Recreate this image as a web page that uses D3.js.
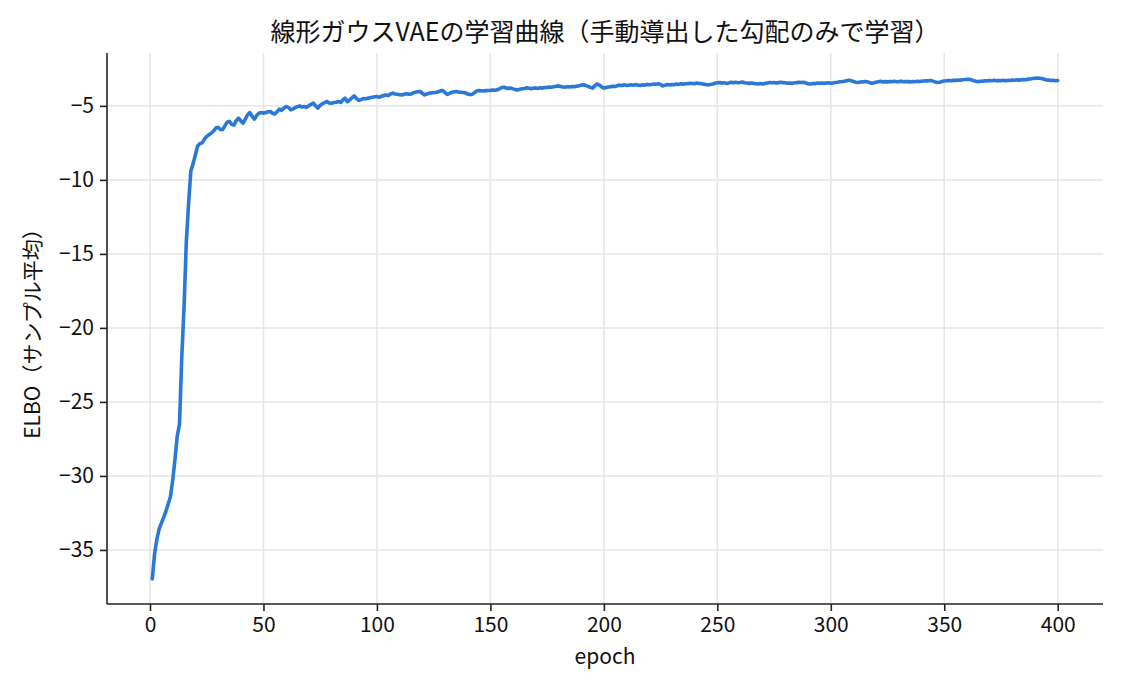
<!DOCTYPE html>
<html>
<head>
<meta charset="utf-8">
<script src="https://cdn.jsdelivr.net/npm/d3@7"></script>
<style>
  body { margin: 0; background: #fff; }
  svg { font-family: "Noto Sans CJK JP", "Noto Sans", sans-serif; }
</style>
</head>
<body>
<svg width="1125" height="690"></svg>
<script>
// chart texts
var titleText = "線形ガウスVAEの学習曲線（手動導出した勾配のみで学習）";
var xLabel = "epoch";
var yLabel = "ELBO（サンプル平均）";

// tick values
var xTicks = [0, 50, 100, 150, 200, 250, 300, 350, 400];
var yTicks = [-35, -30, -25, -20, -15, -10, -5];

// ELBO per epoch (epoch 1..400)
var elbo = [
  -36.96, -35.3, -34.3, -33.6, -33.2, -32.8, -32.4, -31.9, -31.4, -30.3,
  -28.9, -27.3, -26.5, -22.0, -18.6, -14.2, -11.6, -9.4, -8.9, -8.3,
  -7.7, -7.55, -7.5, -7.25, -7.06, -6.95, -6.84, -6.7, -6.5, -6.45,
  -6.6, -6.6, -6.35, -6.1, -6.05, -6.25, -6.3, -6.0, -5.83, -6.0,
  -6.17, -5.9, -5.6, -5.45, -5.7, -5.9, -5.65, -5.5, -5.45, -5.5,
  -5.45, -5.4, -5.38, -5.5, -5.55, -5.4, -5.22, -5.3, -5.15, -5.05,
  -5.1, -5.27, -5.2, -5.12, -5.05, -5.0, -5.08, -5.04, -5.1, -4.98,
  -4.9, -4.82, -5.0, -5.15, -4.95, -4.85, -4.78, -4.7, -4.8, -4.82,
  -4.77, -4.75, -4.7, -4.77, -4.6, -4.48, -4.72, -4.6, -4.45, -4.33,
  -4.5, -4.64, -4.58, -4.5, -4.52, -4.48, -4.45, -4.42, -4.38, -4.37,
  -4.42, -4.35, -4.3, -4.26, -4.3, -4.2, -4.14, -4.2, -4.22, -4.25,
  -4.26, -4.22, -4.18, -4.22, -4.2, -4.12, -4.08, -4.05, -4.03, -4.15,
  -4.26, -4.2, -4.15, -4.12, -4.1, -4.1, -4.05, -3.98, -3.96, -4.1,
  -4.22, -4.15, -4.08, -4.05, -4.03, -4.07, -4.08, -4.1, -4.12, -4.2,
  -4.24, -4.22, -4.1, -4.0, -3.96, -3.98, -4.0, -3.97, -3.96, -3.95,
  -3.93, -3.94, -3.92, -3.85, -3.76, -3.74, -3.8, -3.82, -3.8, -3.85,
  -3.9, -3.92, -3.88, -3.85, -3.82, -3.78, -3.81, -3.84, -3.8, -3.79,
  -3.82, -3.77, -3.8, -3.76, -3.75, -3.72, -3.74, -3.7, -3.68, -3.65,
  -3.69, -3.73, -3.74, -3.7, -3.72, -3.69, -3.71, -3.67, -3.65, -3.6,
  -3.58, -3.62, -3.68, -3.75, -3.8, -3.65, -3.52, -3.6, -3.72, -3.8,
  -3.76, -3.72, -3.7, -3.67, -3.69, -3.63, -3.6, -3.62, -3.58, -3.62,
  -3.6, -3.57, -3.6, -3.56, -3.6, -3.62, -3.58, -3.6, -3.55, -3.58,
  -3.55, -3.52, -3.54, -3.5, -3.55, -3.65, -3.6, -3.56, -3.59, -3.55,
  -3.57, -3.53, -3.55, -3.5, -3.53, -3.51, -3.5, -3.47, -3.49, -3.5,
  -3.46, -3.49, -3.5, -3.53, -3.56, -3.58, -3.55, -3.52, -3.47, -3.44,
  -3.42, -3.46, -3.44, -3.48, -3.45, -3.41, -3.44, -3.4, -3.44, -3.42,
  -3.39, -3.44, -3.45, -3.48, -3.45, -3.48, -3.5, -3.52, -3.49, -3.52,
  -3.48, -3.45, -3.42, -3.44, -3.42, -3.46, -3.43, -3.4, -3.43, -3.44,
  -3.47, -3.45, -3.48, -3.44, -3.43, -3.4, -3.42, -3.41, -3.45, -3.5,
  -3.52, -3.49, -3.5, -3.46, -3.48, -3.45, -3.48, -3.46, -3.44, -3.47,
  -3.45, -3.42, -3.4, -3.37, -3.36, -3.34, -3.3, -3.26, -3.3, -3.36,
  -3.4, -3.42, -3.39, -3.38, -3.35, -3.37, -3.42, -3.47, -3.44, -3.4,
  -3.37, -3.34, -3.38, -3.36, -3.38, -3.35, -3.37, -3.34, -3.37, -3.36,
  -3.33, -3.37, -3.35, -3.36, -3.38, -3.35, -3.37, -3.34, -3.36, -3.33,
  -3.32, -3.3, -3.31, -3.28, -3.33, -3.38, -3.42, -3.4, -3.36, -3.32,
  -3.3, -3.28, -3.31, -3.27, -3.28, -3.25, -3.27, -3.23, -3.22, -3.2,
  -3.21, -3.24, -3.3, -3.34, -3.36, -3.34, -3.33, -3.3, -3.31, -3.28,
  -3.3, -3.27, -3.31, -3.28, -3.3, -3.27, -3.3, -3.28, -3.29, -3.26,
  -3.27, -3.24, -3.26, -3.23, -3.22, -3.23, -3.19, -3.18, -3.15, -3.13,
  -3.12, -3.13, -3.15, -3.2, -3.25, -3.26, -3.28, -3.27, -3.3, -3.29
];

function drawChart() {
    var svg = d3.select("svg");

    // plot area (pixels)
    var plotLeft = 107, plotRight = 1103, plotTop = 53, plotBottom = 604;

    // matplotlib-like 5% margins
    var xMin = 1, xMax = elbo.length;
    var xPad = (xMax - xMin) * 0.05;
    var yExt = d3.extent(elbo);
    var yPad = (yExt[1] - yExt[0]) * 0.05;

    var x = d3.scaleLinear().domain([xMin - xPad, xMax + xPad]).range([plotLeft, plotRight]);
    var y = d3.scaleLinear().domain([yExt[0] - yPad, yExt[1] + yPad]).range([plotBottom, plotTop]);

    // grid
    var grid = svg.append("g").attr("class", "grid");
    grid.selectAll("line.gx").data(xTicks).enter().append("line")
        .attr("class", "gx")
        .attr("x1", function(d) { return x(d); })
        .attr("x2", function(d) { return x(d); })
        .attr("y1", plotTop).attr("y2", plotBottom)
        .attr("stroke", "#e6e6e6").attr("stroke-width", 1.5);
    grid.selectAll("line.gy").data(yTicks).enter().append("line")
        .attr("class", "gy")
        .attr("y1", function(d) { return y(d); })
        .attr("y2", function(d) { return y(d); })
        .attr("x1", plotLeft).attr("x2", plotRight)
        .attr("stroke", "#e6e6e6").attr("stroke-width", 1.5);

    // curve
    var line = d3.line()
        .x(function(d, i) { return x(i + 1); })
        .y(function(d) { return y(d); });

    svg.append("path")
        .datum(elbo)
        .attr("fill", "none")
        .attr("stroke", "#2a78d8")
        .attr("stroke-width", 3.6)
        .attr("stroke-linejoin", "round")
        .attr("stroke-linecap", "round")
        .attr("d", line);

    // axes
    var xAxis = d3.axisBottom(x).tickValues(xTicks).tickSizeOuter(0).tickSize(7).tickPadding(6);
    var yAxis = d3.axisLeft(y).tickValues(yTicks).tickSizeOuter(0).tickSize(7).tickPadding(6);

    var gx = svg.append("g")
        .attr("transform", "translate(0," + plotBottom + ")")
        .call(xAxis);
    var gy = svg.append("g")
        .attr("transform", "translate(" + plotLeft + ",0)")
        .call(yAxis);

    [gx, gy].forEach(function(g) {
        g.select(".domain").attr("stroke", "#222").attr("stroke-width", 1.6);
        g.selectAll(".tick line").attr("stroke", "#222").attr("stroke-width", 1.6);
        g.selectAll(".tick text")
            .attr("fill", "#111")
            .style("font-family", "'Noto Sans CJK JP', sans-serif")
            .style("font-size", "21px");
    });
    // domain lines spanning the whole plot area
    gx.select(".domain").attr("d", "M" + plotLeft + ",0H" + plotRight);
    gy.select(".domain").attr("d", "M0," + plotBottom + "V" + plotTop);

    // title and axis labels
    svg.append("text")
        .attr("x", (plotLeft + plotRight) / 2)
        .attr("y", 41)
        .attr("text-anchor", "middle")
        .attr("fill", "#111")
        .style("font-size", "25px")
        .text(titleText);

    svg.append("text")
        .attr("x", (plotLeft + plotRight) / 2)
        .attr("y", 664)
        .attr("text-anchor", "middle")
        .attr("fill", "#111")
        .style("font-size", "21px")
        .text(xLabel);

    svg.append("text")
        .attr("text-anchor", "middle")
        .attr("transform", "translate(40," + ((plotTop + plotBottom) / 2) + ")rotate(-90)")
        .attr("fill", "#111")
        .style("font-size", "21px")
        .text(yLabel);
}

drawChart();
</script>
</body>
</html>
